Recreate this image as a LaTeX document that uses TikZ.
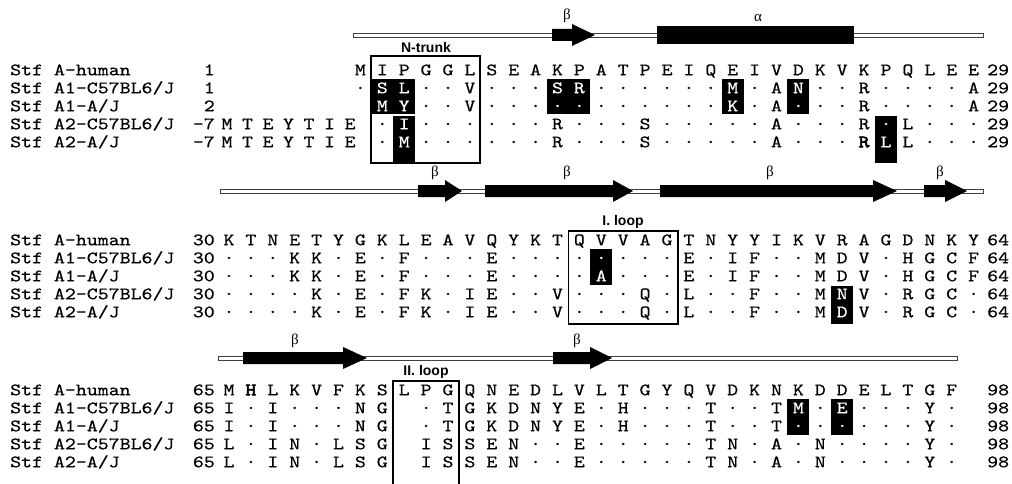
\documentclass[tikz,border=0pt]{standalone}
\usepackage{fontspec}
\newfontfamily\seqfont[FakeStretch=1.192,FakeBold=0.5]{lmmono10-regular.otf}
\newfontfamily\seqbfont[FakeStretch=1.192,FakeBold=3]{lmmono10-regular.otf}
\newfontfamily\lblfont{Liberation Sans}
\newfontfamily\grkfont{Liberation Serif}
\newcommand\wh{\color{white}}
\newcommand\rb{{\seqbfont R}}
\newcommand\hb{{\seqbfont H}}
% name, first column, baseline y, residues
\newcommand\seqrow[4]{\foreach \c [count=\k from #2] in {#4} {\node[res] (#1-\k) at (229+21.9*\k,#3) {\c};}}
% first col, last col, top, bottom
\newcommand\hlcell[4]{\fill[hl] (229+21.9*#1-10.95,#3) rectangle (229+21.9*#2+10.95,#4);}
% x start, head start, tip, y
\newcommand\strand[4]{\fill[strandfill] (#1,#4-6) -- (#2,#4-6) -- (#2,#4-11) -- (#3,#4) -- (#2,#4+11) -- (#2,#4+6) -- (#1,#4+6) -- cycle;}
% block prefix, first baseline
\newcommand\namecol[2]{%
  \node[nm] (#1name1) at (10,#2) {Stf A-human};
  \node[nm] (#1name2) at (10,#2+18) {Stf A1-C57BL6/J};
  \node[nm] (#1name3) at (10,#2+36) {Stf A1-A/J};
  \node[nm] (#1name4) at (10,#2+54) {Stf A2-C57BL6/J};
  \node[nm] (#1name5) at (10,#2+72) {Stf A2-A/J};}
\begin{document}
\begin{tikzpicture}[x=1pt,y=-1pt,
  res/.style={font=\seqfont\fontsize{17.5pt}{20pt}\selectfont, inner sep=0pt, anchor=base},
  nm/.style={res, anchor=base west},
  num/.style={res, anchor=base east},
  endnum/.style={res, anchor=base west},
  hl/.style={fill=black},
  strandfill/.style={fill=black},
  loopbox/.style={draw=black, line width=1.4pt},
  looplbl/.style={font=\lblfont\bfseries\fontsize{14pt}{16pt}\selectfont, inner sep=0pt},
  grk/.style={font=\grkfont\fontsize{15pt}{16pt}\selectfont, inner sep=0pt},
  bar/.style={draw=black!75, fill=white, line width=0.9pt},
]
\useasboundingbox (0,0) rectangle (1012,484);

%================ BLOCK 1 ================
\draw[bar] (353,33) rectangle (983,37);
\strand{552}{572}{595}{35}
\fill[strandfill] (657,26) rectangle (854,44);
\node[grk] (b1beta) at (567,16) {β};
\node[grk] (b1alpha) at (758,18) {α};

\hlcell{7}{8}{79}{114}
\hlcell{15}{16}{79}{114}
\hlcell{23}{23}{79}{114}
\hlcell{26}{26}{79}{114}
\hlcell{8}{8}{116}{163}
\hlcell{30}{30}{116}{163}
\draw[loopbox] (371,56) rectangle (480,163);
\node[looplbl] (ntrunk) at (426,47) {N-trunk};

\namecol{b1}{75.3}
\foreach \t/\y/\i in {1/75.3/1,1/93.3/2,2/111.3/3,-7/129.3/4,-7/147.3/5}
  {\node[num] (b1num\i) at (215,\y) {\t};}
\foreach \y/\i in {75.3/1,93.3/2,111.3/3,129.3/4,147.3/5}
  {\node[endnum] (b1end\i) at (987,\y) {29};}
\foreach \c [count=\k from 0] in {M,T,E,Y,T,I,E} {\node[res] (b1r4p-\k) at (227+20.5*\k,129.3) {\c};}
\foreach \c [count=\k from 0] in {M,T,E,Y,T,I,E} {\node[res] (b1r5p-\k) at (227+20.5*\k,147.3) {\c};}

\seqrow{b1r1}{6}{75.3}{M,I,P,G,G,L,S,E,A,K,P,A,T,P,E,I,Q,E,I,V,D,K,V,K,P,Q,L,E,E}
\seqrow{b1r2}{6}{93.3}{·,\wh S,\wh L,·,·,V,·,·,·,\wh S,\wh R,·,·,·,·,·,·,\wh M,·,A,\wh N,·,·,R,·,·,·,·,A}
\seqrow{b1r3}{7}{111.3}{\wh M,\wh Y,·,·,V,·,·,·,\wh ·,\wh ·,·,·,·,·,·,·,\wh K,·,A,\wh ·,·,·,R,·,·,·,·,A}
\seqrow{b1r4}{7}{129.3}{·,\wh I,·,·,·,·,·,·,R,·,·,·,S,·,·,·,·,·,A,·,·,·,R,\wh ·,L,·,·,·}
\seqrow{b1r5}{7}{147.3}{·,\wh M,·,·,·,·,·,·,R,·,·,·,S,·,·,·,·,·,A,·,·,·,\rb,\wh L,L,·,·,·}

%================ BLOCK 2 ================
\draw[bar] (220,189) rectangle (983,193);
\strand{418}{445}{462}{191}
\strand{485}{613}{633}{191}
\strand{660}{873}{897}{191}
\strand{924}{945}{967}{191}
\node[grk] (b2beta1) at (435,173) {β};
\node[grk] (b2beta2) at (567,173) {β};
\node[grk] (b2beta3) at (770,173) {β};
\node[grk] (b2beta4) at (940,173) {β};

\hlcell{17}{17}{249}{285}
\hlcell{28}{28}{286}{324}
\draw[loopbox] (568.5,231) rectangle (678,324);
\node[looplbl] (loop1) at (623,222) {I. loop};

\namecol{b2}{245.3}
\foreach \y/\i in {245.3/1,263.3/2,281.3/3,299.3/4,317.3/5}
  {\node[num] (b2num\i) at (215,\y) {30};
   \node[endnum] (b2end\i) at (987,\y) {64};}

\seqrow{b2r1}{0}{245.3}{K,T,N,E,T,Y,G,K,L,E,A,V,Q,Y,K,T,Q,V,V,A,G,T,N,Y,Y,I,K,V,R,A,G,D,N,K,Y}
\seqrow{b2r2}{0}{263.3}{·,·,·,K,K,·,E,·,F,·,·,·,E,·,·,·,·,\wh ·,·,·,·,E,·,I,F,·,·,M,D,V,·,H,G,C,F}
\seqrow{b2r3}{0}{281.3}{·,·,·,K,K,·,E,·,F,·,·,·,E,·,·,·,·,\wh A,·,·,·,E,·,I,F,·,·,M,D,V,·,H,G,C,F}
\seqrow{b2r4}{0}{299.3}{·,·,·,·,K,·,E,·,F,K,·,I,E,·,·,V,·,·,·,Q,·,L,·,·,F,·,·,M,\wh N,V,·,R,G,C,·}
\seqrow{b2r5}{0}{317.3}{·,·,·,·,K,·,E,·,F,K,·,I,E,·,·,V,·,·,·,Q,·,L,·,·,F,·,·,M,\wh D,V,·,R,G,C,·}

%================ BLOCK 3 ================
\draw[bar] (218,356) rectangle (957,360);
\strand{243}{343}{367}{358}
\strand{553}{590}{612}{358}
\node[grk] (b3beta1) at (295,341) {β};
\node[grk] (b3beta2) at (577,341) {β};

\hlcell{26}{26}{399}{435}
\hlcell{28}{28}{399}{435}
\draw[loopbox] (393,381) rectangle (459,490);
\node[looplbl] (loop2) at (426,372) {II. loop};

\namecol{b3}{395.3}
\foreach \y/\i in {395.3/1,413.3/2,431.3/3,449.3/4,467.3/5}
  {\node[num] (b3num\i) at (215,\y) {65};
   \node[endnum] (b3end\i) at (987,\y) {98};}

\seqrow{b3r1}{0}{395.3}{M,\hb,L,K,V,F,K,S,L,P,G,Q,N,E,D,L,V,L,T,G,Y,Q,V,D,K,N,K,D,D,E,L,T,G,F}
\seqrow{b3r2}{0}{413.3}{I,·,I,·,·,·,N,G}
\seqrow{b3r2}{9}{413.3}{·,T,G,K,D,N,Y,E,·,H,·,·,·,T,·,·,T,\wh M,·,\wh E,·,·,·,Y,·}
\seqrow{b3r3}{0}{431.3}{I,·,I,·,·,·,N,G}
\seqrow{b3r3}{9}{431.3}{·,T,G,K,D,N,Y,E,·,H,·,·,·,T,·,·,T,\wh ·,·,\wh ·,·,·,·,Y,·}
\seqrow{b3r4}{0}{449.3}{L,·,I,N,·,L,S,G}
\seqrow{b3r4}{9}{449.3}{I,S,S,E,N,·,·,E,·,·,·,·,·,T,N,·,A,·,N,·,·,·,·,Y,·}
\seqrow{b3r5}{0}{467.3}{L,·,I,N,·,L,S,G}
\seqrow{b3r5}{9}{467.3}{I,S,S,E,N,·,·,E,·,·,·,·,·,T,N,·,A,·,N,·,·,·,·,Y,·}
\end{tikzpicture}
\end{document}
